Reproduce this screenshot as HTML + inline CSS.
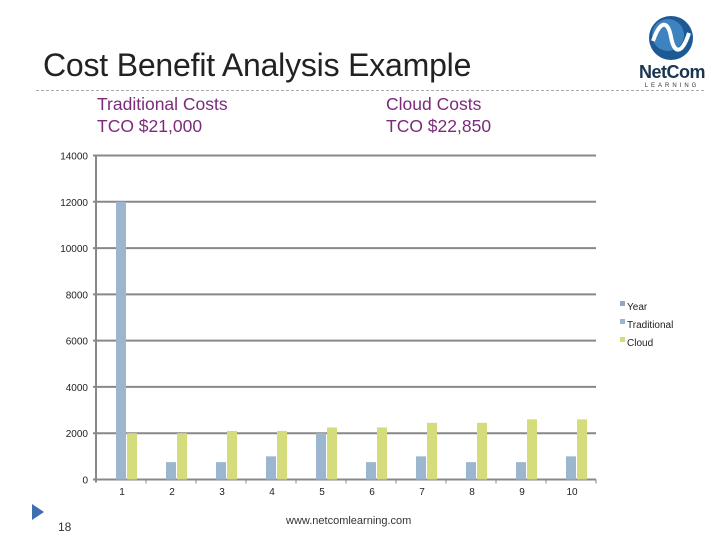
<!DOCTYPE html>
<html><head><meta charset="utf-8"><style>
body{margin:0;width:720px;height:540px;background:#fff;font-family:"Liberation Sans",sans-serif;position:relative;overflow:hidden}
.a{position:absolute}
</style></head><body>
<div class="a" style="left:43px;top:47px;font-size:32px;color:#222;letter-spacing:-0.2px">Cost Benefit Analysis Example</div>
<div class="a" style="left:36px;top:90px;width:668px;border-top:1px dashed #aaa"></div>
<div class="a" style="left:638px;top:14px;width:68px;height:74px">
<svg width="68" height="74"><circle cx="33" cy="24" r="22" fill="#1d5a93"/><circle cx="30" cy="21" r="16" fill="#3f82c0"/><path d="M15 27 C22 6,30 6,33 23 S44 41,51 19" stroke="#fff" stroke-width="4" fill="none"/><text x="34" y="64" text-anchor="middle" font-size="18" font-weight="bold" fill="#1a3550" font-family="Liberation Sans" letter-spacing="-0.5">NetCom</text><text x="34" y="73" text-anchor="middle" font-size="6" letter-spacing="3" fill="#333" font-family="Liberation Sans">LEARNING</text></svg></div>
<div class="a" style="left:97px;top:93px;font-size:17.5px;color:#7b2b7a;line-height:22px">Traditional Costs<br>TCO $21,000</div>
<div class="a" style="left:386px;top:93px;font-size:17.5px;color:#7b2b7a;line-height:22px">Cloud Costs<br>TCO $22,850</div>
<svg class="a" style="left:0;top:0" width="720" height="540" id="chart"></svg>
<div class="a" style="left:58px;top:520px;font-size:12px;color:#333">18</div>
<div class="a" style="left:286px;top:515px;font-size:11px;color:#333">www.netcomlearning.com</div>
<svg class="a" style="left:32px;top:504px" width="14" height="16"><polygon points="0,0 12,8 0,16" fill="#3f6fb0"/></svg>
<script>
const categories=["1","2","3","4","5","6","7","8","9","10"];
const yearVals=[0,0,0,0,0,0,0,0,0,0];
const traditional=[12000,750,750,1000,2000,750,1000,750,750,1000];
const cloud=[2000,2000,2100,2100,2250,2250,2450,2450,2600,2600];
const yTicks=[0,2000,4000,6000,8000,10000,12000,14000];
const seriesNames=["Year","Traditional","Cloud"];
const NS="http://www.w3.org/2000/svg",svg=document.getElementById('chart');
const x0=96,x1=596,y0=479.5,y1=155.5,ymax=14000;
const ys=v=>y0-(v/ymax)*(y0-y1);
const bw=(x1-x0)/categories.length;
const xc=i=>x0+bw*(i+0.5);
function mk(t,a){const e=document.createElementNS(NS,t);for(const k in a)e.setAttribute(k,a[k]);svg.appendChild(e);return e;}
yTicks.forEach(v=>{
 const l=mk('line',{x1:x0-3,x2:x1,y1:ys(v),y2:ys(v),stroke:'#888','stroke-width':2});
 
 
 const t=mk('text',{x:88,y:ys(v)+4,'text-anchor':'end','font-size':10,fill:'#222'});t.textContent=v;
 
 
});
const ax=mk('line',{x1:x0,x2:x0,y1:y1,y2:y0+3,stroke:'#888','stroke-width':2});


categories.forEach((c,i)=>{
 const tk=mk('line',{x1:x0+bw*(i+1),x2:x0+bw*(i+1),y1:y0,y2:y0+4,stroke:'#888','stroke-width':1});
 
 
 const t=mk('text',{x:xc(i)+1,y:495,'text-anchor':'middle','font-size':10,fill:'#222'});t.textContent=c;
 
 
 const b1=mk('rect',{x:xc(i)-5,y:ys(traditional[i]),width:10,height:y0-ys(traditional[i]),fill:'#9cb6cf'});
 
 
 const b2=mk('rect',{x:xc(i)+6,y:ys(cloud[i]),width:10,height:y0-ys(cloud[i]),fill:'#d4dc7c'});
 
 
});
const cols=['#8ea8c6','#9cb6cf','#d4dc7c'];
seriesNames.forEach((s,i)=>{
 const y=306+i*18;
 const r=mk('rect',{x:620,y:y-5,width:5,height:5,fill:cols[i]});
 
 
 const t=mk('text',{x:627,y:y+4,'font-size':10,fill:'#222'});t.textContent=s;
 
 
});
</script>
</body></html>
